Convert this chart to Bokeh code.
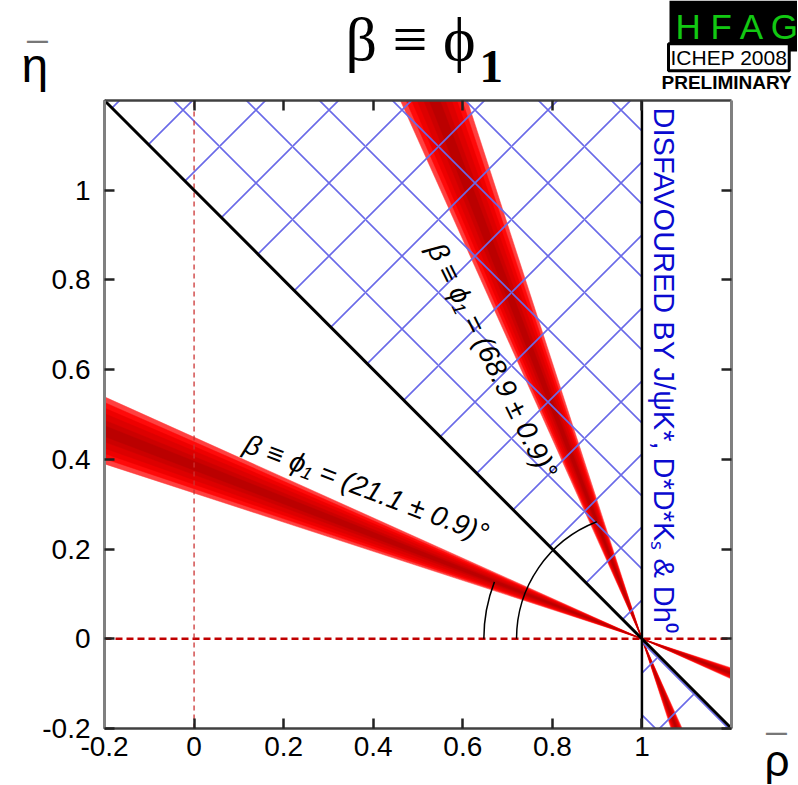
import math
from bokeh.plotting import figure
from bokeh.models import Range1d, FixedTicker, LinearAxis, Label
from bokeh.embed import file_html
from bokeh.resources import INLINE

# ---- data ----
x_min, x_max = -0.2, 1.2
y_min, y_max = -0.2, 1.2
tick_values = [-0.2, 0.0, 0.2, 0.4, 0.6, 0.8, 1.0]
tick_labels = ["-0.2", "0", "0.2", "0.4", "0.6", "0.8", "1"]
apex = (1.0, 0.0)                      # (rho, eta) = (1, 0)
beta_values = [21.1, 68.9]             # degrees (two-fold solution)
beta_error = 0.9
band_halfwidths = [3.1, 2.6, 2.1, 1.6, 1.0, 0.5]   # degrees, outer -> inner
band_colors = ["#ff4040", "#ff0a0a", "#ee0000", "#dd0000", "#cc0000", "#bb0000"]
arc_radii = [0.353, 0.28]
band_texts = ["β ≡ ϕ₁ = (21.1 ± 0.9)°", "β ≡ ϕ₁ = (68.9 ± 0.9)°"]
disfavoured_text = "DISFAVOURED BY J/ψK*, D*D*Kₛ & Dh⁰"

# ---- layout: the frame fills the canvas; the plot box sits at fixed pixel offsets ----
W, H = 797, 784
box_left, box_top, box_w, box_h = 104, 100, 627, 628
sx = box_w / (x_max - x_min)
sy = box_h / (y_max - y_min)
xr0 = x_min - box_left / sx
yr1 = y_max + box_top / sy
p = figure(width=W, height=H,
           x_range=Range1d(xr0, xr0 + W / sx), y_range=Range1d(yr1 - H / sy, yr1),
           output_backend="svg", toolbar_location=None, min_border=0,
           x_axis_location=None, y_axis_location=None)
p.title.visible = False
p.xgrid.visible = False
p.ygrid.visible = False
p.outline_line_color = None
p.background_fill_color = "white"
p.border_fill_color = "white"

def px_x(px):
    return x_min + (px - box_left) / sx

def px_y(py):
    return y_max - (py - box_top) / sy

def make_axis(loc, bounds, labels, color, width):
    ax = LinearAxis(fixed_location=loc, bounds=bounds)
    ax.ticker = FixedTicker(ticks=tick_values)
    ax.major_tick_in = 10
    ax.major_tick_out = 0
    ax.minor_tick_in = 0
    ax.minor_tick_out = 0
    ax.axis_line_color = color
    ax.axis_line_width = width
    ax.major_tick_line_color = "#222222"
    ax.major_tick_line_width = 2.5
    if labels:
        ax.major_label_overrides = {v: t for v, t in zip(tick_values, tick_labels)}
        ax.major_label_text_font = "Liberation Sans"
        ax.major_label_text_font_size = "28px"
        ax.major_label_text_color = "black"
    else:
        ax.major_label_text_font_size = "0px"
        ax.major_label_text_alpha = 0
    return ax

bottom = make_axis(y_min, (x_min, x_max), True, "#404040", 2.5)
bottom.major_label_standoff = 8
p.add_layout(bottom, "below")
left = make_axis(x_min, (y_min, y_max), True, "#808080", 3)
left.major_label_standoff = 14
p.add_layout(left, "left")
p.add_layout(make_axis(y_max, (x_min, x_max), False, "#404040", 2.5), "above")
p.add_layout(make_axis(x_max, (y_min, y_max), False, "#808080", 3), "right")

# ---- red bands (nested confidence levels), clipped to the plot box ----
ax0, ay0 = apex

def ray_end(theta_deg, sgn):
    dx = -sgn * math.cos(math.radians(theta_deg))
    dy = sgn * math.sin(math.radians(theta_deg))
    ts = []
    if dx < 0: ts.append((x_min - ax0) / dx)
    if dx > 0: ts.append((x_max - ax0) / dx)
    if dy < 0: ts.append((y_min - ay0) / dy)
    if dy > 0: ts.append((y_max - ay0) / dy)
    t = min(ts)
    return ax0 + t * dx, ay0 + t * dy

for hw, col in zip(band_halfwidths, band_colors):
    xs, ys = [], []
    for b in beta_values:
        for sgn in (1, -1):
            x1, y1 = ray_end(b - hw, sgn)
            x2, y2 = ray_end(b + hw, sgn)
            xs.append([ax0, x1, x2])
            ys.append([ay0, y1, y2])
    p.patches(xs=xs, ys=ys, fill_color=col, line_color=col, line_width=0.5)

# ---- disfavoured (hatched) regions: rho+eta>1 for rho<1, rho+eta<1 for rho>1 ----
hx = [[x_min, ax0, ax0], [ax0, ax0, x_max]]
hy = [[1 - x_min, y_max, ay0], [ay0, y_min, 1 - x_max]]
p.patches(xs=hx, ys=hy, fill_alpha=0, line_alpha=0,
          hatch_pattern="diagonal_cross", hatch_color="#6a6ae8",
          hatch_weight=1.6, hatch_scale=73, hatch_alpha=1)

# ---- dashed reference axes ----
p.line(x=[x_min, x_max], y=[0, 0], line_color="#c00000", line_dash="7 4", line_width=2.5)
p.line(x=[0, 0], y=[y_min, y_max], line_color="#cc3333", line_dash="5 4", line_width=1.3)

# ---- black lines ----
p.line(x=[x_min, x_max], y=[1 - x_min, 1 - x_max], line_color="black", line_width=3)
p.line(x=[ax0, ax0], y=[y_min, y_max], line_color="black", line_width=2.5)

# ---- angle arcs ----
for b, r in zip(beta_values, arc_radii):
    p.arc(x=ax0, y=ay0, radius=r, start_angle=math.pi - math.radians(b), end_angle=math.pi,
          direction="anticlock", line_color="black", line_width=1.5)

# ---- in-plot labels ----
p.add_layout(Label(x=px_x(366), y=px_y(488), text=band_texts[0], angle=-math.radians(20.8),
                   text_align="center", text_baseline="middle", text_font="Liberation Sans",
                   text_font_style="italic", text_font_size="28px", text_color="black"))
p.add_layout(Label(x=px_x(492), y=px_y(360), text=band_texts[1], angle=-math.radians(63.7),
                   text_align="center", text_baseline="middle", text_font="Liberation Sans",
                   text_font_style="italic", text_font_size="28px", text_color="black"))
p.add_layout(Label(x=px_x(663), y=px_y(370), text=disfavoured_text, angle=-math.pi / 2,
                   text_align="center", text_baseline="middle", text_font="Liberation Sans",
                   text_font_size="29px", text_color="#0a0ad0"))

def base(py, fs):
    # Label 'alphabetic' placement correction (pixels)
    return px_y(py - 0.3 * fs)

# ---- title ----
p.add_layout(Label(x=px_x(410), y=base(57, 62), text="β ≡ ϕ", text_align="center",
                   text_baseline="alphabetic", text_font="Liberation Serif",
                   text_font_size="62px", text_color="black"))
p.add_layout(Label(x=px_x(479), y=base(80, 47), text="1", text_align="left",
                   text_baseline="alphabetic", text_font="Liberation Serif",
                   text_font_style="bold", text_font_size="47px", text_color="black"))

# ---- axis titles ----
p.add_layout(Label(x=px_x(21), y=base(79, 48), text="η", text_align="left", text_baseline="alphabetic",
                   text_font="Liberation Sans", text_font_size="48px", text_color="black"))
p.add_layout(Label(x=px_x(27), y=px_y(23), text="_", text_align="left", text_baseline="alphabetic",
                   text_font="Liberation Sans", text_font_size="36px", text_color="#777777"))
p.add_layout(Label(x=px_x(764), y=base(773, 44), text="ρ", text_align="left", text_baseline="alphabetic",
                   text_font="Liberation Sans", text_font_size="44px", text_color="black"))
p.add_layout(Label(x=px_x(766), y=px_y(715), text="_", text_align="left", text_baseline="alphabetic",
                   text_font="Liberation Sans", text_font_size="36px", text_color="#777777"))

# ---- HFAG logo ----
p.add_layout(Label(x=px_x(669), y=base(36, 35), text="H F A G", text_align="left", text_baseline="alphabetic",
                   text_font="Liberation Sans", text_font_size="35px",
                   text_color="#12c812", background_fill_color="black", padding=6))
p.add_layout(Label(x=px_x(668), y=base(63, 21), text="ICHEP 2008", text_align="left", text_baseline="alphabetic",
                   text_font="Liberation Sans", text_font_size="21px", text_color="black",
                   background_fill_color="white", border_line_color="black", border_line_width=3,
                   padding=2))
p.add_layout(Label(x=px_x(661), y=base(88, 19), text="PRELIMINARY", text_align="left", text_baseline="alphabetic",
                   text_font="Liberation Sans", text_font_style="bold", text_font_size="19px",
                   text_color="black"))

open("out.html", "w").write(file_html(p, INLINE))
